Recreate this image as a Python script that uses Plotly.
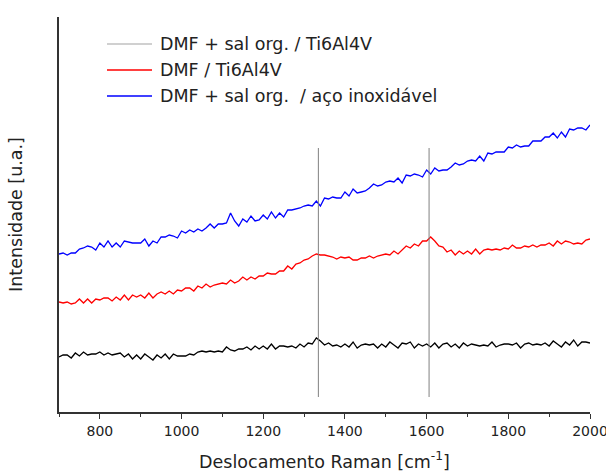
import plotly.graph_objects as go

# Raman shift grid (cm^-1)
raman_shift = list(range(700, 2001, 10))

# Intensities (arbitrary units)
int_blue = [158, 159, 157, 159, 159, 163, 164, 166, 165, 162,
            169, 165, 171, 165, 169, 165, 171, 170, 169, 169,
            169, 173, 166, 171, 169, 175, 175, 177, 176, 174,
            181, 179, 182, 180, 183, 181, 184, 188, 184, 188,
            188, 189, 199, 191, 186, 193, 190, 196, 191, 192,
            197, 193, 200, 194, 199, 195, 202, 202, 203, 204,
            206, 207, 206, 211, 206, 214, 213, 215, 214, 214,
            220, 216, 223, 219, 220, 221, 224, 228, 226, 227,
            230, 231, 230, 234, 229, 237, 236, 238, 237, 235,
            242, 238, 244, 241, 242, 242, 245, 249, 247, 248,
            251, 252, 251, 256, 251, 259, 258, 260, 260, 260,
            265, 264, 267, 265, 266, 266, 271, 271, 271, 275,
            275, 279, 274, 280, 275, 283, 282, 284, 284, 282,
            287]

int_red = [110, 109, 110, 108, 109, 113, 109, 113, 109, 113,
           112, 114, 114, 111, 115, 112, 117, 112, 117, 115,
           117, 114, 119, 114, 118, 120, 118, 121, 118, 122,
           121, 124, 124, 121, 126, 124, 128, 125, 127, 128,
           129, 128, 132, 129, 131, 135, 132, 135, 133, 136,
           136, 139, 138, 138, 141, 141, 146, 143, 148, 149,
           152, 153, 156, 158, 157, 157, 156, 155, 153, 155,
           154, 155, 152, 152, 154, 154, 156, 154, 156, 157,
           158, 157, 161, 158, 162, 166, 164, 168, 166, 171,
           171, 175, 171, 166, 165, 160, 162, 157, 161, 158,
           161, 158, 163, 158, 162, 163, 162, 163, 162, 164,
           163, 167, 164, 164, 166, 165, 167, 165, 167, 167,
           169, 166, 171, 168, 171, 170, 168, 169, 168, 172,
           173]

int_black = [55, 57, 57, 54, 59, 56, 60, 57, 58, 58,
             60, 57, 59, 57, 58, 59, 55, 58, 53, 57,
             53, 58, 55, 52, 57, 54, 58, 53, 58, 56,
             56, 56, 58, 57, 60, 61, 60, 61, 60, 61,
             60, 65, 62, 61, 63, 63, 65, 62, 66, 63,
             66, 63, 68, 63, 66, 66, 65, 66, 64, 68,
             65, 69, 68, 74, 71, 67, 69, 66, 67, 65,
             68, 65, 70, 64, 67, 68, 67, 68, 64, 68,
             65, 70, 67, 64, 69, 68, 70, 64, 68, 66,
             68, 65, 69, 64, 68, 69, 65, 68, 64, 69,
             66, 68, 67, 66, 67, 66, 70, 65, 67, 68,
             68, 67, 69, 64, 68, 69, 67, 68, 67, 69,
             66, 71, 68, 65, 70, 67, 72, 66, 70, 70,
             69]

series_names = ["DMF + sal org. / Ti6Al4V", "DMF / Ti6Al4V", "DMF + sal org.  / aço inoxidável"]
series_colors = ["#000000", "#ff0000", "#0000ff"]
legend_colors = ["#c0c0c0", "#ff0000", "#0000ff"]

peak_positions = [1335, 1606]
peak_line_span = [15, 264]

x_ticks = [800, 1000, 1200, 1400, 1600, 1800, 2000]

# plot area geometry (pixels)
W, H = 606, 473
ML, MR, MT, MB = 59, 16, 17, 61
PW, PH = W - ML - MR, H - MT - MB

def px_x(p):
    return (p - ML) / PW

def px_y(p):
    return (H - MB - p) / PH

fig = go.Figure()

for vals, col, name in zip([int_black, int_red, int_blue], series_colors, series_names):
    fig.add_trace(go.Scatter(x=raman_shift, y=vals, mode="lines", showlegend=False,
                             name=name, line=dict(color=col, width=1.3)))

for px in peak_positions:
    fig.add_shape(type="line", xref="x", yref="y", x0=px, x1=px,
                  y0=peak_line_span[0], y1=peak_line_span[1],
                  line=dict(color="#808080", width=1))

# hand-built legend (long sample lines like the reference)
legend_rows = [44, 70, 96]
for row, name, col in zip(legend_rows, series_names, legend_colors):
    fig.add_shape(type="line", xref="paper", yref="paper",
                  x0=px_x(107), x1=px_x(152), y0=px_y(row), y1=px_y(row),
                  line=dict(color=col, width=1.5))
    fig.add_annotation(xref="paper", yref="paper", x=px_x(158), y=px_y(row),
                       xanchor="left", yanchor="middle", showarrow=False,
                       text=name, font=dict(size=17.5, color="#222222"))

fig.update_layout(
    width=W, height=H,
    margin=dict(l=ML, r=MR, t=MT, b=MB, autoexpand=False),
    paper_bgcolor="white", plot_bgcolor="white",
    font=dict(family="DejaVu Sans", color="#222222"),
    showlegend=False,
    xaxis=dict(range=[700, 2000], tickvals=x_ticks, ticks="outside", ticklen=5,
               tickwidth=1, tickcolor="#333333", ticklabeloverflow="allow",
               automargin=False,
               showline=True, linecolor="#333333", linewidth=1.5,
               showgrid=False, zeroline=False,
               tickfont=dict(size=14, color="#222222"),
               minor=dict(dtick=100, ticks="outside", ticklen=3, tickcolor="#333333"),
               title=dict(text="Deslocamento Raman [cm<sup>-1</sup>]",
                          font=dict(size=17.5, color="#222222"), standoff=18)),
    yaxis=dict(range=[0, 395], showticklabels=False, ticks="",
               automargin=False,
               showline=True, linecolor="#333333", linewidth=1.5,
               showgrid=False, zeroline=False,
               title=dict(text="Intensidade [u.a.]",
                          font=dict(size=17.5, color="#222222"), standoff=30)),
)

fig.write_html("out.html")
